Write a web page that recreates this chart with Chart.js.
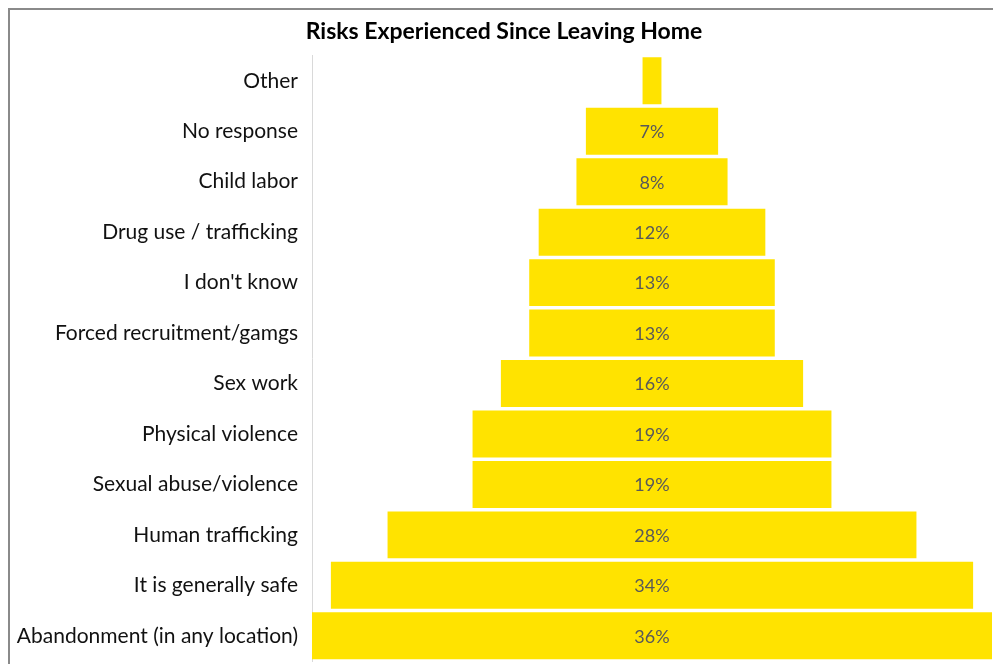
<!DOCTYPE html>
<html>
<head>
	<meta charset="UTF-8">
	<title>Risks Experienced Since Leaving Home</title>
	<script src="https://cdn.jsdelivr.net/npm/chart.js"></script>
	<style>
		body {
			margin: 0;
			background: #ffffff;
			overflow: hidden;
		}

		/* frame around the chart, cut off on the right and bottom */
		#frame {
			position: absolute;
			left: 8px;
			top: 8px;
			width: 1100px;
			height: 800px;
			border: 2px solid #8a8a8a;
		}

		#chartContainer {
			position: absolute;
			left: 0;
			top: 0;
			width: 993px;
			height: 664px;
		}
	</style>
</head>
<body>
	<div id="frame"></div>
	<div id="chartContainer">
		<canvas id="myChart" width="993" height="664"></canvas>
	</div>
	<script>
		const categories = [
			'Other',
			'No response',
			'Child labor',
			'Drug use / trafficking',
			"I don't know",
			'Forced recruitment/gamgs',
			'Sex work',
			'Physical violence',
			'Sexual abuse/violence',
			'Human trafficking',
			'It is generally safe',
			'Abandonment (in any location)'
		];
		// percent of respondents
		const values = [1, 7, 8, 12, 13, 13, 16, 19, 19, 28, 34, 36];
		// "Other" is too small to carry a label
		const showLabel = [false, true, true, true, true, true, true, true, true, true, true, true];

		const fontFamily = 'Lato, "Noto Sans", sans-serif';

		// funnel: each bar is centred on zero
		const spans = values.map(v => [-v / 2, v / 2]);

		const valueLabels = {
			id: 'valueLabels',
			afterDatasetsDraw: (chart) => {
				const {ctx} = chart;
				const meta = chart.getDatasetMeta(0);
				const cx = chart.scales.x.getPixelForValue(0);
				ctx.save();
				ctx.fillStyle = '#595959';
				ctx.font = '18px ' + fontFamily;
				ctx.textAlign = 'center';
				ctx.textBaseline = 'middle';
				meta.data.forEach((bar, i) => {
					if (!showLabel[i]) return;
					ctx.fillText(values[i] + '%', cx, bar.y + 1);
				});
				ctx.restore();
			}
		};

		const ctx = document.getElementById('myChart').getContext('2d');
		const chart = new Chart(ctx, {
			type: 'bar',
			data: {
				labels: categories,
				datasets: [{
					label: 'Risks',
					data: spans,
					backgroundColor: '#FFE300',
					borderWidth: 0,
					barPercentage: 0.93,
					categoryPercentage: 1.0
				}]
			},
			options: {
				indexAxis: 'y',
				responsive: false,
				animation: false,
				layout: {
					padding: {
						left: 16,
						right: 1,
						top: 18,
						bottom: 3
					}
				},
				scales: {
					x: {
						display: false,
						min: -18,
						max: 18
					},
					y: {
						grid: {
							display: false,
							drawTicks: false
						},
						border: {
							display: true,
							color: '#d9d9d9',
							width: 1
						},
						ticks: {
							color: '#111111',
							padding: 14,
							font: {
								family: fontFamily,
								size: 21
							}
						},
						afterFit: (scale) => {
							scale.width = 296;
							scale.paddingTop = 0;
							scale.paddingBottom = 0;
						}
					}
				},
				plugins: {
					legend: {
						display: false
					},
					tooltip: {
						enabled: false
					},
					title: {
						display: true,
						text: 'Risks Experienced Since Leaving Home',
						color: '#000000',
						padding: {
							top: 0,
							bottom: 10
						},
						font: {
							family: fontFamily,
							size: 23,
							weight: 'bold'
						}
					}
				}
			},
			plugins: [valueLabels]
		});
	</script>
</body>
</html>
